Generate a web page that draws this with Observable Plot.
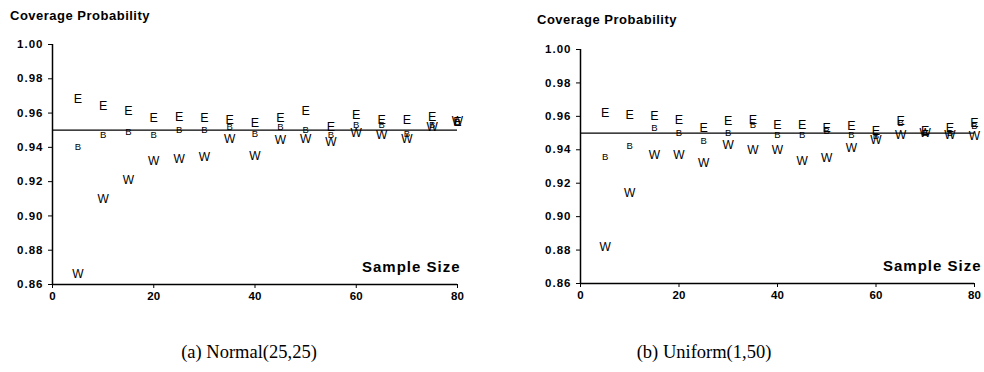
<!DOCTYPE html>
<html>
<head>
<meta charset="utf-8">
<script src="https://cdn.jsdelivr.net/npm/d3@7"></script>
<script src="https://cdn.jsdelivr.net/npm/@observablehq/plot@0.6"></script>
<style>
  html, body { margin: 0; padding: 0; background: #fff; }
  #root { position: relative; width: 984px; height: 372px; overflow: hidden; background: #fff; font-family: "Liberation Sans", Arial, sans-serif; color: #000; }
  .ptitle { position: absolute; font-size: 13px; font-weight: bold; letter-spacing: 0.5px; line-height: 13px; white-space: nowrap; }
  .xlab { position: absolute; font-size: 15px; font-weight: bold; letter-spacing: 1px; line-height: 15px; white-space: nowrap; }
  .cap { position: absolute; font-family: "Liberation Serif", "Times New Roman", serif; font-size: 18.5px; line-height: 18px; white-space: nowrap; transform: translateX(-50%); }
  .panel { position: absolute; }
  g[aria-label="y-axis tick label"] text { letter-spacing: 1px; }
</style>
</head>
<body>
<div id="root"></div>
<script>
// ---- data ----
const sampleSizes = [5, 10, 15, 20, 25, 30, 35, 40, 45, 50, 55, 60, 65, 70, 75, 80];
const xTicks = [0, 20, 40, 60, 80];
const yTicks = [0.86, 0.88, 0.90, 0.92, 0.94, 0.96, 0.98, 1.00];
const nominalLevel = 0.95;

// (a) Normal(25,25)
const normalE = [0.968, 0.964, 0.961, 0.957, 0.958, 0.957, 0.956, 0.954, 0.957, 0.961, 0.952, 0.959, 0.956, 0.956, 0.958, 0.955];
const normalB = [0.940, 0.947, 0.949, 0.947, 0.950, 0.950, 0.952, 0.948, 0.952, 0.950, 0.947, 0.953, 0.953, 0.948, 0.953, 0.955];
const normalW = [0.866, 0.910, 0.921, 0.932, 0.933, 0.934, 0.945, 0.935, 0.944, 0.945, 0.943, 0.948, 0.947, 0.945, 0.952, 0.955];

// (b) Uniform(1,50)
const uniformE = [0.962, 0.961, 0.960, 0.958, 0.953, 0.957, 0.958, 0.955, 0.955, 0.953, 0.954, 0.951, 0.957, 0.951, 0.953, 0.956];
const uniformB = [0.936, 0.942, 0.953, 0.950, 0.945, 0.950, 0.955, 0.949, 0.949, 0.951, 0.949, 0.948, 0.956, 0.950, 0.950, 0.954];
const uniformW = [0.882, 0.914, 0.937, 0.937, 0.932, 0.943, 0.940, 0.940, 0.933, 0.935, 0.941, 0.946, 0.949, 0.950, 0.949, 0.948];

const yTitle = "Coverage Probability";
const xTitle = "Sample Size";
const captions = ["(a) Normal(25,25)", "(b) Uniform(1,50)"];

// ---- drawing ----
function rows(vals) { return sampleSizes.map((n, i) => ({n, p: vals[i]})); }

function panel(E, B, W, opts) {
  return Plot.plot({
    width: opts.width, height: opts.height,
    marginLeft: opts.ml, marginRight: opts.mr, marginTop: opts.mt, marginBottom: opts.mb,
    style: {fontFamily: "Liberation Sans, Arial, sans-serif", fontSize: "11px", color: "#000", background: "transparent", overflow: "visible"},
    x: {domain: [0, 80]},
    y: {domain: [0.86, 1.00]},
    marks: [
      Plot.axisX({ticks: xTicks, tickSize: 4, tickPadding: 3, label: null, fontSize: 11.5, fontWeight: "bold"}),
      Plot.axisY({ticks: yTicks, tickSize: 4, tickPadding: 5, tickFormat: d3.format(".2f"), label: null, fontSize: 11.5, fontWeight: "bold"}),
      Plot.ruleX([0], {stroke: "#000", strokeWidth: 1.5}),
      Plot.ruleY([0.86], {stroke: "#000", strokeWidth: 1.5}),
      Plot.ruleY([nominalLevel], {stroke: "#000", strokeWidth: 1.2}),
      Plot.text(rows(E), {x: "n", y: "p", text: () => "E", fontSize: 12.5, fill: "#000"}),
      Plot.text(rows(B), {x: "n", y: "p", text: () => "B", fontSize: 9.5, fill: "#000"}),
      Plot.text(rows(W), {x: "n", y: "p", text: () => "W", fontSize: 12, fill: "#000"})
    ]
  });
}

const root = document.getElementById("root");

function addDiv(cls, text, left, top) {
  const d = document.createElement("div");
  d.className = cls; d.textContent = text;
  d.style.left = left + "px"; d.style.top = top + "px";
  root.appendChild(d);
  return d;
}

const left = panel(normalE, normalB, normalW, {width: 470, height: 280, ml: 52, mr: 13, mt: 14, mb: 26});
const lw = document.createElement("div"); lw.className = "panel"; lw.style.left = "0px"; lw.style.top = "30px"; lw.appendChild(left); root.appendChild(lw);

const right = panel(uniformE, uniformB, uniformW, {width: 484, height: 280, ml: 80, mr: 10, mt: 19, mb: 27});
const rw = document.createElement("div"); rw.className = "panel"; rw.style.left = "500px"; rw.style.top = "30px"; rw.appendChild(right); root.appendChild(rw);

addDiv("ptitle", yTitle, 10, 9);
addDiv("ptitle", yTitle, 537, 13);
addDiv("xlab", xTitle, 362, 259);
addDiv("xlab", xTitle, 883, 258);
addDiv("cap", captions[0], 249, 343);
addDiv("cap", captions[1], 704, 343);
</script>
</body>
</html>
